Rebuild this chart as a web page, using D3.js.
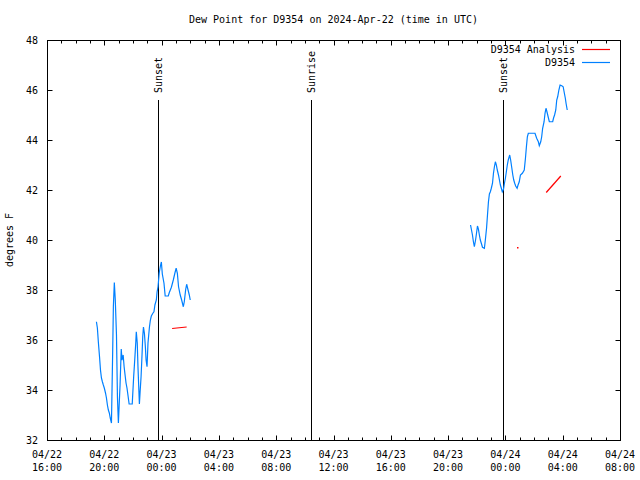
<!DOCTYPE html>
<html>
<head>
<meta charset="utf-8">
<script src="https://cdn.jsdelivr.net/npm/d3@7"></script>
<style>
  html, body { margin: 0; padding: 0; background: #fff; }
  svg { display: block; }
  text { font-family: "DejaVu Sans Mono", "Liberation Mono", monospace; font-size: 10px; fill: #000; }
</style>
</head>
<body>
<svg id="chart" width="640" height="480"></svg>
<script>
// ---------- data ----------
const chartTitle = "Dew Point for D9354 on 2024-Apr-22 (time in UTC)";
const yLabel = "degrees F";
const seriesNames = ["D9354 Analysis", "D9354"];
const xDomain = ["2024-04-22 16:00", "2024-04-24 08:00"];
const yDomain = [32, 48];
const yTicks = [32, 34, 36, 38, 40, 42, 44, 46, 48];

// observed dew point, first segment
const obsTimesA = ["2024-04-22 19:27","2024-04-22 19:31","2024-04-22 19:35","2024-04-22 19:40","2024-04-22 19:44","2024-04-22 19:48","2024-04-22 19:52","2024-04-22 19:56","2024-04-22 20:00","2024-04-22 20:05","2024-04-22 20:09","2024-04-22 20:13","2024-04-22 20:17","2024-04-22 20:21","2024-04-22 20:25","2024-04-22 20:30","2024-04-22 20:35","2024-04-22 20:38","2024-04-22 20:42","2024-04-22 20:46","2024-04-22 20:51","2024-04-22 20:55","2024-04-22 20:59","2024-04-22 21:02","2024-04-22 21:06","2024-04-22 21:11","2024-04-22 21:14","2024-04-22 21:19","2024-04-22 21:23","2024-04-22 21:27","2024-04-22 21:31","2024-04-22 21:35","2024-04-22 21:39","2024-04-22 21:44","2024-04-22 21:57","2024-04-22 22:03","2024-04-22 22:08","2024-04-22 22:12","2024-04-22 22:14","2024-04-22 22:18","2024-04-22 22:21","2024-04-22 22:27","2024-04-22 22:30","2024-04-22 22:34","2024-04-22 22:38","2024-04-22 22:41","2024-04-22 22:44","2024-04-22 22:48","2024-04-22 22:52","2024-04-22 22:55","2024-04-22 22:59","2024-04-22 23:03","2024-04-22 23:09","2024-04-22 23:13","2024-04-22 23:17","2024-04-22 23:24","2024-04-22 23:28","2024-04-22 23:32","2024-04-22 23:38","2024-04-22 23:41","2024-04-22 23:45","2024-04-22 23:50","2024-04-22 23:55","2024-04-22 23:59","2024-04-23 00:03","2024-04-23 00:10","2024-04-23 00:15","2024-04-23 00:28","2024-04-23 00:32","2024-04-23 00:41","2024-04-23 00:49","2024-04-23 00:56","2024-04-23 01:01","2024-04-23 01:06","2024-04-23 01:11","2024-04-23 01:18","2024-04-23 01:24","2024-04-23 01:31","2024-04-23 01:35","2024-04-23 01:41","2024-04-23 01:45","2024-04-23 01:49","2024-04-23 01:56","2024-04-23 02:00"];
const obsDewA = [36.73,36.48,35.93,35.33,34.8,34.48,34.33,34.2,34.08,33.88,33.68,33.4,33.2,33.08,32.88,32.68,35.48,37.33,38.3,37.6,36.2,33.73,32.68,33.33,34.2,35.64,35.2,35.4,34.93,34.6,34.28,34.08,33.8,33.44,33.44,34.53,35.28,35.93,36.33,35.88,34.93,33.44,33.93,34.53,35.4,36.13,36.52,36.27,35.73,35.2,34.93,35.88,36.51,36.8,36.96,37.08,37.13,37.4,37.6,37.92,38.13,38.68,38.96,39.12,38.64,38.27,37.76,37.76,37.89,38.11,38.4,38.69,38.87,38.67,38.13,37.8,37.6,37.33,37.53,38.03,38.23,38.07,37.8,37.6];

// observed dew point, second segment
const obsTimesB = ["2024-04-23 21:34","2024-04-23 21:38","2024-04-23 21:42","2024-04-23 21:46","2024-04-23 21:50","2024-04-23 21:55","2024-04-23 21:59","2024-04-23 22:03","2024-04-23 22:07","2024-04-23 22:11","2024-04-23 22:15","2024-04-23 22:20","2024-04-23 22:24","2024-04-23 22:32","2024-04-23 22:36","2024-04-23 22:41","2024-04-23 22:45","2024-04-23 22:49","2024-04-23 22:53","2024-04-23 22:57","2024-04-23 23:01","2024-04-23 23:06","2024-04-23 23:10","2024-04-23 23:14","2024-04-23 23:18","2024-04-23 23:22","2024-04-23 23:26","2024-04-23 23:31","2024-04-23 23:35","2024-04-23 23:39","2024-04-23 23:43","2024-04-23 23:47","2024-04-23 23:52","2024-04-23 23:56","2024-04-24 00:00","2024-04-24 00:04","2024-04-24 00:08","2024-04-24 00:12","2024-04-24 00:18","2024-04-24 00:22","2024-04-24 00:27","2024-04-24 00:31","2024-04-24 00:35","2024-04-24 00:39","2024-04-24 00:43","2024-04-24 00:49","2024-04-24 00:53","2024-04-24 00:58","2024-04-24 01:03","2024-04-24 01:11","2024-04-24 01:19","2024-04-24 01:24","2024-04-24 01:28","2024-04-24 01:32","2024-04-24 01:36","2024-04-24 02:04","2024-04-24 02:11","2024-04-24 02:18","2024-04-24 02:22","2024-04-24 02:28","2024-04-24 02:32","2024-04-24 02:36","2024-04-24 02:42","2024-04-24 02:46","2024-04-24 02:50","2024-04-24 02:54","2024-04-24 03:00","2024-04-24 03:04","2024-04-24 03:18","2024-04-24 03:22","2024-04-24 03:26","2024-04-24 03:31","2024-04-24 03:35","2024-04-24 03:39","2024-04-24 03:44","2024-04-24 03:49","2024-04-24 03:56","2024-04-24 04:02","2024-04-24 04:07","2024-04-24 04:11","2024-04-24 04:14","2024-04-24 04:19"];
const obsDewB = [40.6,40.4,40.2,39.93,39.73,40.0,40.27,40.56,40.43,40.2,40.0,39.84,39.71,39.67,40.0,40.47,41.0,41.53,41.84,41.93,42.07,42.27,42.67,42.93,43.13,43.0,42.8,42.6,42.4,42.2,42.07,41.93,42.03,42.27,42.47,42.73,43.0,43.2,43.4,43.2,42.87,42.6,42.4,42.27,42.16,42.07,42.2,42.33,42.6,42.67,42.8,43.27,43.73,44.13,44.27,44.27,44.07,43.93,43.77,43.93,44.13,44.47,44.73,45.07,45.27,45.13,44.89,44.73,44.73,44.89,45.0,45.2,45.6,45.73,46.0,46.2,46.17,46.13,45.87,45.67,45.47,45.2];

// analysis
const anaTimesA = ["2024-04-23 00:44","2024-04-23 01:14","2024-04-23 01:45"];
const anaDewA = [36.46,36.49,36.52];
const anaTimesB = ["2024-04-24 00:50"];
const anaDewB = [39.72];
const anaTimesC = ["2024-04-24 02:51","2024-04-24 03:52"];
const anaDewC = [41.9,42.56];

// sun events
const sunLabels = ["Sunset", "Sunrise", "Sunset"];
const sunTimes = ["2024-04-22 23:47", "2024-04-23 10:27", "2024-04-23 23:51"];

// ---------- chart ----------
const parse = d3.utcParse("%Y-%m-%d %H:%M");
const zip = (ts, vs) => ts.map((t, i) => ({ t: parse(t), v: vs[i] }));

const W = 640, H = 480;
const m = { left: 47, right: 20, top: 40, bottom: 40 };
const x0 = m.left, x1 = W - m.right, y0 = H - m.bottom, y1 = m.top;

const svg = d3.select("#chart");
const x = d3.scaleUtc().domain(xDomain.map(parse)).range([x0, x1]);
const y = d3.scaleLinear().domain(yDomain).range([y0, y1]);

const blue = "#0080ff", red = "#ff0000";

// border
svg.append("rect")
  .attr("x", x0 + 0.5).attr("y", y1 + 0.5)
  .attr("width", x1 - x0).attr("height", y0 - y1)
  .attr("fill", "none").attr("stroke", "#000").attr("stroke-width", 1);

// x ticks
const majorX = d3.utcHour.every(4).range(x.domain()[0], new Date(+x.domain()[1] + 1));
const minorX = d3.utcHour.every(1).range(x.domain()[0], new Date(+x.domain()[1] + 1));
const tickG = svg.append("g").attr("stroke", "#000").attr("stroke-width", 1);
minorX.forEach(d => {
  const px = Math.round(x(d)) + 0.5;
  const major = d.getUTCHours() % 4 === 0;
  const len = major ? 5 : 3;
  tickG.append("line").attr("x1", px).attr("x2", px).attr("y1", y0 + 0.5).attr("y2", y0 + 0.5 - len);
  tickG.append("line").attr("x1", px).attr("x2", px).attr("y1", y1 + 0.5).attr("y2", y1 + 0.5 + len);
});
const fmtDate = d3.utcFormat("%m/%d"), fmtTime = d3.utcFormat("%H:%M");
majorX.forEach(d => {
  const t = svg.append("text").attr("x", x(d)).attr("text-anchor", "middle");
  t.append("tspan").attr("x", x(d)).attr("y", 458).text(fmtDate(d));
  t.append("tspan").attr("x", x(d)).attr("y", 471).text(fmtTime(d));
});

// y ticks
yTicks.forEach(v => {
  const py = Math.round(y(v)) + 0.5;
  tickG.append("line").attr("x1", x0 + 0.5).attr("x2", x0 + 5.5).attr("y1", py).attr("y2", py);
  tickG.append("line").attr("x1", x1 + 0.5).attr("x2", x1 - 4.5).attr("y1", py).attr("y2", py);
  svg.append("text").attr("x", 38).attr("y", y(v)).attr("dy", "0.35em")
    .attr("text-anchor", "end").text(v);
});

// titles
svg.append("text").attr("x", (x0 + x1) / 2).attr("y", 23).attr("text-anchor", "middle").text(chartTitle);
svg.append("text").attr("transform", `translate(13,${(y0 + y1) / 2}) rotate(-90)`)
  .attr("text-anchor", "middle").text(yLabel);

// sun event lines
sunTimes.forEach((s, i) => {
  const px = Math.round(x(parse(s))) + 0.5;
  svg.append("line").attr("x1", px).attr("x2", px).attr("y1", 100).attr("y2", y0)
    .attr("stroke", "#000").attr("stroke-width", 1);
  svg.append("text").attr("transform", `translate(${px + 3.5},93) rotate(-90)`)
    .attr("text-anchor", "start").text(sunLabels[i]);
});

// lines
const line = d3.line().x(d => x(d.t)).y(d => y(d.v));
[zip(obsTimesA, obsDewA), zip(obsTimesB, obsDewB)].forEach(data => {
  svg.append("path").datum(data).attr("d", line)
    .attr("fill", "none").attr("stroke", blue).attr("stroke-width", 1.2);
});
[zip(anaTimesA, anaDewA), zip(anaTimesC, anaDewC)].forEach(data => {
  svg.append("path").datum(data).attr("d", line)
    .attr("fill", "none").attr("stroke", red).attr("stroke-width", 1.2);
});
zip(anaTimesB, anaDewB).forEach(d => {
  svg.append("rect").attr("x", Math.round(x(d.t))).attr("y", Math.round(y(d.v)))
    .attr("width", 1.5).attr("height", 1.5).attr("fill", red);
});

// legend
const legColors = [red, blue];
seriesNames.forEach((n, i) => {
  const ly = 49 + i * 13;
  svg.append("text").attr("x", 575).attr("y", ly).attr("dy", "0.35em").attr("text-anchor", "end").text(n);
  svg.append("line").attr("x1", 582).attr("x2", 610).attr("y1", ly + 0.5).attr("y2", ly + 0.5)
    .attr("stroke", legColors[i]).attr("stroke-width", 1.2);
});
</script>
</body>
</html>
